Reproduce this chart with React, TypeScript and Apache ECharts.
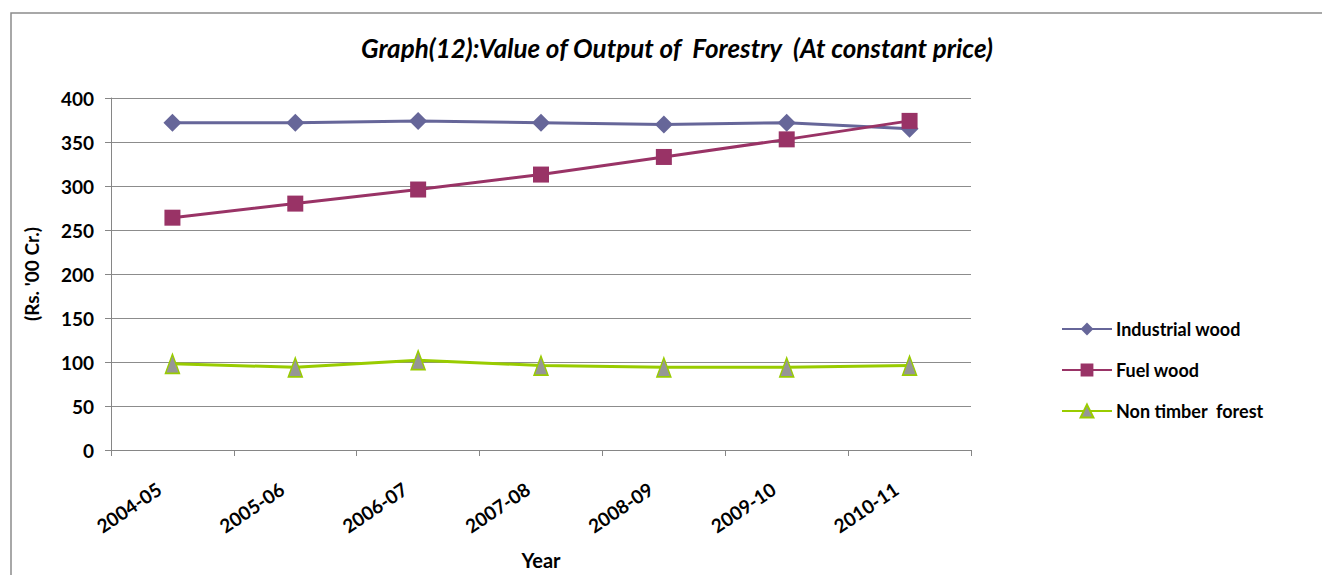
import React, { useEffect, useRef } from "react";
import * as echarts from "echarts";

const categories = ["2004-05", "2005-06", "2006-07", "2007-08", "2008-09", "2009-10", "2010-11"];
const industrialWood = [372, 372, 374, 372, 370, 372, 365];
const fuelWood = [264, 280, 296, 313, 333, 353, 374];
const nonTimberForest = [98, 94, 102, 96, 94, 94, 96];
const yTicks = { min: 0, max: 400, interval: 50 };

const FONT = "Lato, 'Open Sans', sans-serif";

export default function App() {
  const ref = useRef<HTMLDivElement>(null);
  useEffect(() => {
    if (!ref.current) return;
    const chart = echarts.init(ref.current, null, { renderer: "svg" });
    chart.setOption({
      animation: false,
      backgroundColor: "#ffffff",
      textStyle: { fontFamily: FONT },
      title: {
        text: "Graph(12):Value of Output of  Forestry  (At constant price)",
        left: 672,
        textAlign: "center",
        top: 30,
        textStyle: { fontFamily: FONT, fontSize: 26, fontWeight: "bold", fontStyle: "italic", color: "#000" },
      },
      graphic: [
        {
          type: "polyline",
          shape: { points: [[11, 600], [11, 13], [1330, 13]] },
          style: { stroke: "#8c8c8c", lineWidth: 1.5, fill: null },
          silent: true,
        },
      ],
      grid: { left: 111, right: 351, top: 98, bottom: 125, containLabel: false },
      legend: {
        orient: "vertical",
        left: 1056,
        top: 315,
        itemWidth: 50,
        itemHeight: 16,
        itemGap: 23,
        textStyle: { fontFamily: FONT, fontSize: 18, fontWeight: "bold", color: "#000", padding: [0, 0, 0, -1] },
        data: ["Industrial wood", "Fuel wood", "Non timber  forest"],
      },
      xAxis: {
        type: "category",
        data: categories,
        boundaryGap: true,
        name: "Year",
        nameLocation: "middle",
        nameGap: 100,
        nameTextStyle: { fontFamily: FONT, fontSize: 20, fontWeight: "bold", color: "#000" },
        axisLine: { lineStyle: { color: "#868686", width: 1 } },
        axisTick: { show: true, length: 6, lineStyle: { color: "#868686" } },
        axisLabel: {
          rotate: 34,
          fontFamily: FONT,
          fontSize: 19,
          fontWeight: "bold",
          color: "#000",
          margin: 28,
          padding: [0, 16, 0, 0],
        },
        splitLine: { show: false },
      },
      yAxis: {
        type: "value",
        min: yTicks.min,
        max: yTicks.max,
        interval: yTicks.interval,
        name: "(Rs. '00 Cr.)",
        nameLocation: "middle",
        nameRotate: 90,
        nameGap: 70,
        nameTextStyle: { fontFamily: FONT, fontSize: 19, fontWeight: "bold", color: "#000" },
        axisLine: { show: true, lineStyle: { color: "#868686", width: 1 } },
        axisTick: { show: true, length: 6, lineStyle: { color: "#868686" } },
        axisLabel: { fontFamily: FONT, fontSize: 19, fontWeight: "bold", color: "#000", margin: 17 },
        splitLine: { show: true, lineStyle: { color: "#8c8c8c", width: 1 } },
      },
      series: [
        {
          name: "Industrial wood",
          type: "line",
          data: industrialWood,
          symbol: "diamond",
          symbolSize: [18, 18],
          lineStyle: { color: "#666699", width: 3 },
          itemStyle: { color: "#666699" },
        },
        {
          name: "Fuel wood",
          type: "line",
          data: fuelWood,
          symbol: "rect",
          symbolSize: 16,
          lineStyle: { color: "#993366", width: 3 },
          itemStyle: { color: "#993366" },
        },
        {
          name: "Non timber  forest",
          type: "line",
          data: nonTimberForest,
          symbol: "triangle",
          symbolSize: [14, 19],
          lineStyle: { color: "#99cc00", width: 3 },
          itemStyle: { color: "#969696", borderColor: "#99cc00", borderWidth: 1.5 },
        },
      ],
    });
    return () => chart.dispose();
  }, []);
  return <div ref={ref} style={{ position: "absolute", left: 0, top: 0, width: 1322, height: 575 }} />;
}
